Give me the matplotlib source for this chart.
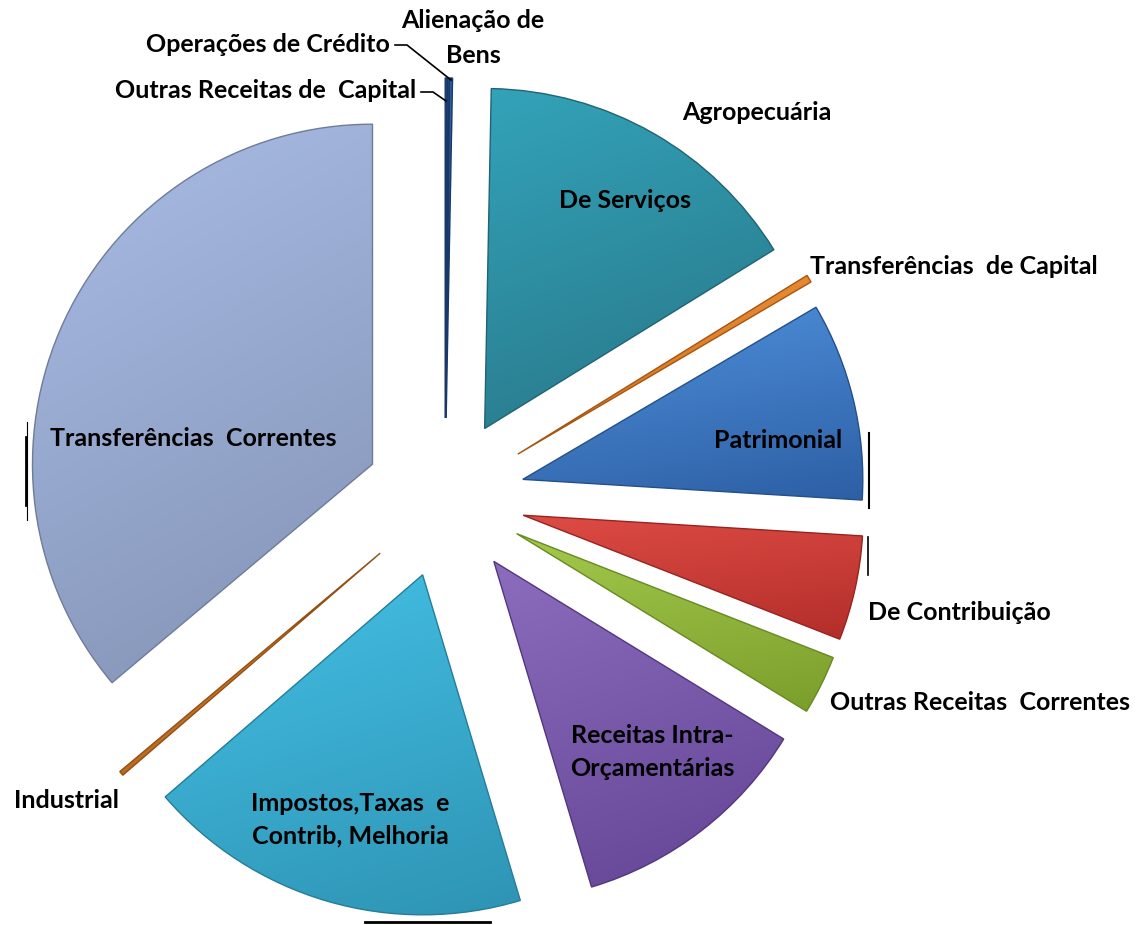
import numpy as np
import matplotlib
matplotlib.use("Agg")
import matplotlib.pyplot as plt
from matplotlib.colors import to_rgb

# ---- data (percent of total revenue), clockwise from 12 o'clock ----
categories = [
    "Outras Receitas de  Capital", "Operações de Crédito", "Alienação de\nBens",
    "Agropecuária", "De Serviços", "Transferências  de Capital", "Patrimonial",
    "De Contribuição", "Outras Receitas  Correntes", "Receitas Intra-\nOrçamentárias",
    "Impostos,Taxas  e\nContrib, Melhoria", "Industrial", "Transferências  Correntes",
]
shares = [0.08, 0.08, 0.14, 0.01, 15.88, 0.36, 9.42, 4.97, 2.81, 11.61, 18.31, 0.22, 36.11]

# ---- styling ----
top_colors = ["#3567a8", "#3567a8", "#3567a8", "#9bc24c", "#33a3ba", "#f0953a",
              "#4f91dc", "#de4b45", "#a3c94c", "#8c6cbd", "#44c1e6", "#d88434", "#aabde6"]
bot_colors = ["#1f477f", "#1f477f", "#1f477f", "#7ea12f", "#287585", "#c86a1a",
              "#2d5fa4", "#b32e29", "#7b9e2b", "#624394", "#2e93b3", "#b0621c", "#8292b4"]
edge_colors = ["#18386a", "#18386a", "#18386a", "#9bc24c", "#216373", "#a85512",
               "#24508a", "#962420", "#678a22", "#52377e", "#257d98", "#944f12", "#6e7c99"]
edge_widths = [1.0, 1.0, 1.0, 0.0, 1.0, 1.0, 1.0, 1.0, 1.0, 1.0, 1.0, 1.0, 1.0]
explode = [80, 80, 80, 80, 80, 85, 80, 80, 80, 80, 80, 85, 80]

W, H = 1138, 925
fig = plt.figure(figsize=(W / 100, H / 100), dpi=100)
ax = fig.add_axes([0, 0, 1, 1])


def Y(y):
    return H - y


cx, cy = 445, 498
wedges, _ = ax.pie(shares, startangle=90, counterclock=False, radius=340,
                   center=(cx, Y(cy)), explode=explode, frame=True,
                   wedgeprops=dict(linewidth=1.0))
ax.set_xlim(0, W)
ax.set_ylim(0, H)
ax.set_aspect("equal")
ax.axis("off")

for w, ct, cb, ce, lw in zip(wedges, top_colors, bot_colors, edge_colors, edge_widths):
    verts = w.get_path().vertices
    x0, y0 = verts.min(axis=0)
    x1, y1 = verts.max(axis=0)
    n = 200
    yy, xx = np.mgrid[0:1:n * 1j, 0:1:n * 1j]
    t = np.clip(0.75 * yy + 0.25 * xx, 0, 1)[..., None]
    img = (1 - t) * np.array(to_rgb(ct)) + t * np.array(to_rgb(cb))
    im = ax.imshow(img, extent=(x0, x1, y0, y1), origin="upper",
                   interpolation="bilinear", zorder=1, aspect="auto")
    im.set_clip_path(w)
    w.set_facecolor("none")
    w.set_edgecolor(ce)
    w.set_linewidth(lw)
    w.set_zorder(2)

ax.set_xlim(0, W)
ax.set_ylim(0, H)

font = dict(family=["Lato", "DejaVu Sans"], fontweight="bold", fontsize=18, color="black")

# label placement (pixel positions from top-left)
ax.text(473, Y(38), categories[2], ha="center", va="center", linespacing=1.6, zorder=5, **font)
ax.text(390, Y(45), categories[1], ha="right", va="center", zorder=5, **font)
ax.text(416, Y(91), categories[0], ha="right", va="center", zorder=5, **font)
ax.text(757, Y(112), categories[3], ha="center", va="center", zorder=5, **font)
ax.text(625, Y(201), categories[4], ha="center", va="center", zorder=5, **font)
ax.text(810, Y(266), categories[5], ha="left", va="center", zorder=5, **font)
ax.text(778, Y(440), categories[6], ha="center", va="center", zorder=5, **font)
ax.text(868, Y(613), categories[7], ha="left", va="center", zorder=5, **font)
ax.text(830, Y(703), categories[8], ha="left", va="center", zorder=5, **font)
ax.text(652, Y(752), categories[9], ha="center", va="center", linespacing=1.5, zorder=5, **font)
ax.text(350, Y(820), categories[10], ha="center", va="center", linespacing=1.5, zorder=5, **font)
ax.text(14, Y(800), categories[11], ha="left", va="center", zorder=5, **font)
ax.text(193, Y(438), categories[12], ha="center", va="center", zorder=5, **font)

# leader lines for the tiny capital slices
ax.plot([395, 407, 451], [Y(45), Y(45), Y(80)], color="black", lw=1.2, zorder=4)
ax.plot([421, 433, 446], [Y(92), Y(92), Y(101)], color="black", lw=1.2, zorder=4)

# dark shadow ticks at the rim (rendering artefacts of the original)
ax.plot([26, 26], [Y(437), Y(505)], color="black", lw=2, zorder=3)
ax.plot([27, 27], [Y(422), Y(520)], color="black", lw=0.8, zorder=3)
ax.plot([869, 869], [Y(433), Y(508)], color="black", lw=1.5, zorder=3)
ax.plot([868, 868], [Y(537), Y(575)], color="black", lw=1.2, zorder=3)
ax.plot([365, 490], [Y(922), Y(922)], color="black", lw=2, zorder=3)

fig.savefig("out.png", dpi=100)
